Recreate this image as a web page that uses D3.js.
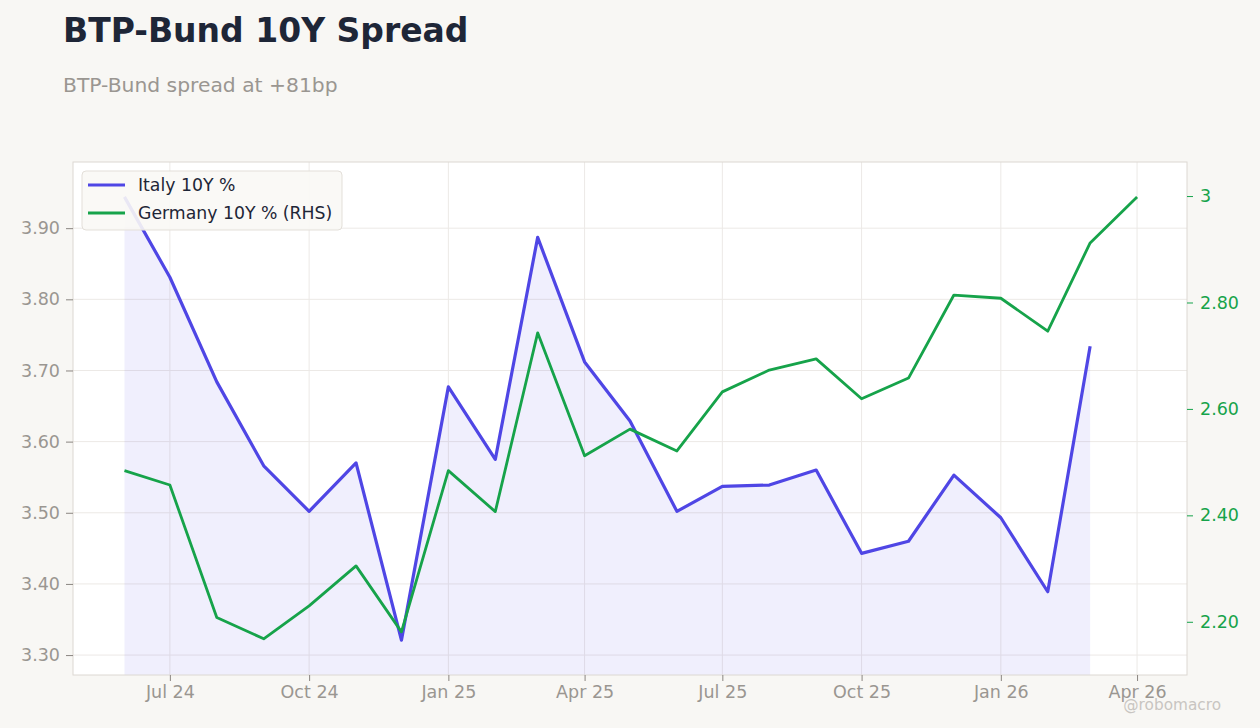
<!DOCTYPE html>
<html>
<head>
<meta charset="utf-8">
<script src="https://cdn.jsdelivr.net/npm/d3@7"></script>
<style>
  body { margin: 0; background: #f8f7f4; font-family: "DejaVu Sans", sans-serif; }
  svg { display: block; }
</style>
</head>
<body>
<div id="chart"></div>
<script>
// monthly observations (first of month)
var months = ["2024-06", "2024-07", "2024-08", "2024-09", "2024-10", "2024-11", "2024-12",
  "2025-01", "2025-02", "2025-03", "2025-04", "2025-05", "2025-06", "2025-07", "2025-08",
  "2025-09", "2025-10", "2025-11", "2025-12", "2026-01", "2026-02", "2026-03", "2026-04"];

var italy = [3.944, 3.831, 3.684, 3.566, 3.502, 3.570, 3.321, 3.677, 3.575, 3.887, 3.712,
  3.629, 3.502, 3.537, 3.539, 3.560, 3.443, 3.460, 3.553, 3.493, 3.389, 3.734];

var germany = [2.484, 2.457, 2.208, 2.168, 2.230, 2.305, 2.181, 2.484, 2.407, 2.743, 2.512,
  2.562, 2.521, 2.632, 2.673, 2.694, 2.619, 2.658, 2.814, 2.808, 2.746, 2.912, 2.998];

var xTicks = ["2024-07", "2024-10", "2025-01", "2025-04", "2025-07", "2025-10", "2026-01", "2026-04"];
var xTickLabels = ["Jul 24", "Oct 24", "Jan 25", "Apr 25", "Jul 25", "Oct 25", "Jan 26", "Apr 26"];
var leftTicks = [3.30, 3.40, 3.50, 3.60, 3.70, 3.80, 3.90];
var leftTickLabels = ["3.30", "3.40", "3.50", "3.60", "3.70", "3.80", "3.90"];
var rightTicks = [2.20, 2.40, 2.60, 2.80, 3.00];
var rightTickLabels = ["2.20", "2.40", "2.60", "2.80", "3"];
var seriesNames = ["Italy 10Y %", "Germany 10Y % (RHS)"];

var W = 1260, H = 728;
var margin = {top: 162, right: 73, bottom: 53, left: 73},
    width = W - margin.left - margin.right,
    height = H - margin.top - margin.bottom;

var parse = d3.timeParse("%Y-%m");
var dates = months.map(parse);

var x = d3.scaleTime()
    .domain([new Date(2024, 3, 28), new Date(2026, 4, 4)])
    .range([0, width]);
var yL = d3.scaleLinear().domain([3.272, 3.993]).range([height, 0]);
var yR = d3.scaleLinear().domain([2.100, 3.064]).range([height, 0]);

var svg = d3.select("#chart").append("svg")
    .attr("width", W)
    .attr("height", H);

svg.append("text")
    .attr("x", 63).attr("y", 42)
    .attr("font-size", 33).attr("font-weight", "bold")
    .attr("fill", "#1e2637")
    .text("BTP-Bund 10Y Spread");

svg.append("text")
    .attr("x", 63).attr("y", 92)
    .attr("font-size", 20.3)
    .attr("fill", "#9a9691")
    .text("BTP-Bund spread at +81bp");

var g = svg.append("g")
    .attr("transform", "translate(" + margin.left + "," + margin.top + ")");

g.append("rect")
    .attr("width", width).attr("height", height)
    .attr("fill", "#ffffff");

// gridlines
g.append("g").selectAll("line").data(leftTicks).join("line")
    .attr("x1", 0).attr("x2", width)
    .attr("y1", function(d) { return yL(d); }).attr("y2", function(d) { return yL(d); })
    .attr("stroke", "#ece9e6").attr("stroke-width", 1);

g.append("g").selectAll("line").data(xTicks.map(parse)).join("line")
    .attr("y1", 0).attr("y2", height)
    .attr("x1", function(d) { return x(d); }).attr("x2", function(d) { return x(d); })
    .attr("stroke", "#ece9e6").attr("stroke-width", 1);

// italy area
var italyData = italy.map(function(v, i) { return [dates[i], v]; });
var germanyData = germany.map(function(v, i) { return [dates[i], v]; });

g.append("path")
    .datum(italyData)
    .attr("fill", "#4f46e5")
    .attr("fill-opacity", 0.085)
    .attr("d", d3.area()
        .x(function(d) { return x(d[0]); })
        .y0(height)
        .y1(function(d) { return yL(d[1]); }));

g.append("path")
    .datum(italyData)
    .attr("fill", "none")
    .attr("stroke", "#4f46e5")
    .attr("stroke-width", 3.2)
    .attr("stroke-linejoin", "round")
    .attr("d", d3.line()
        .x(function(d) { return x(d[0]); })
        .y(function(d) { return yL(d[1]); }));

g.append("path")
    .datum(germanyData)
    .attr("fill", "none")
    .attr("stroke", "#16a34a")
    .attr("stroke-width", 2.8)
    .attr("stroke-linejoin", "round")
    .attr("d", d3.line()
        .x(function(d) { return x(d[0]); })
        .y(function(d) { return yR(d[1]); }));

// frame
g.append("rect")
    .attr("width", width).attr("height", height)
    .attr("fill", "none")
    .attr("stroke", "#dcd8d2").attr("stroke-width", 1);

// axes
var xAxis = d3.axisBottom(x)
    .tickValues(xTicks.map(parse))
    .tickFormat(function(d, i) { return xTickLabels[i]; })
    .tickSize(6).tickPadding(5);

var gx = g.append("g")
    .attr("transform", "translate(0," + height + ")")
    .call(xAxis);

var gl = g.append("g")
    .call(d3.axisLeft(yL)
        .tickValues(leftTicks)
        .tickFormat(function(d, i) { return leftTickLabels[i]; })
        .tickSize(7).tickPadding(6));

var gr = g.append("g")
    .attr("transform", "translate(" + width + ",0)")
    .call(d3.axisRight(yR)
        .tickValues(rightTicks)
        .tickFormat(function(d, i) { return rightTickLabels[i]; })
        .tickSize(6).tickPadding(7));

[gx, gl, gr].forEach(function(a) {
    a.select(".domain").remove();
    a.selectAll("text").attr("font-family", "DejaVu Sans, sans-serif").attr("font-size", 17.5);
});
gx.selectAll("line").attr("stroke", "#8a8580");
gx.selectAll("text").attr("fill", "#9a9691");
gl.selectAll("line").attr("stroke", "#8a8580");
gl.selectAll("text").attr("fill", "#9a9691");
gr.selectAll("line").attr("stroke", "#16a34a");
gr.selectAll("text").attr("fill", "#16a34a");

// legend
var legend = g.append("g").attr("transform", "translate(9,9)");
legend.append("rect")
    .attr("width", 260).attr("height", 59).attr("rx", 4)
    .attr("fill", "#f9f8f5").attr("fill-opacity", 0.9)
    .attr("stroke", "#e3dfd9");
var colors = ["#4f46e5", "#16a34a"];
seriesNames.forEach(function(name, i) {
    var yy = 14 + i * 28;
    legend.append("line")
        .attr("x1", 6).attr("x2", 43)
        .attr("y1", yy).attr("y2", yy)
        .attr("stroke", colors[i]).attr("stroke-width", 3);
    legend.append("text")
        .attr("x", 56).attr("y", yy + 6)
        .attr("font-size", 17.3)
        .attr("fill", "#1e2637")
        .text(name);
});

svg.append("text")
    .attr("x", 1221).attr("y", 710)
    .attr("text-anchor", "end")
    .attr("font-size", 15.3)
    .attr("fill", "#c8c5c1")
    .text("@robomacro");
</script>
</body>
</html>
